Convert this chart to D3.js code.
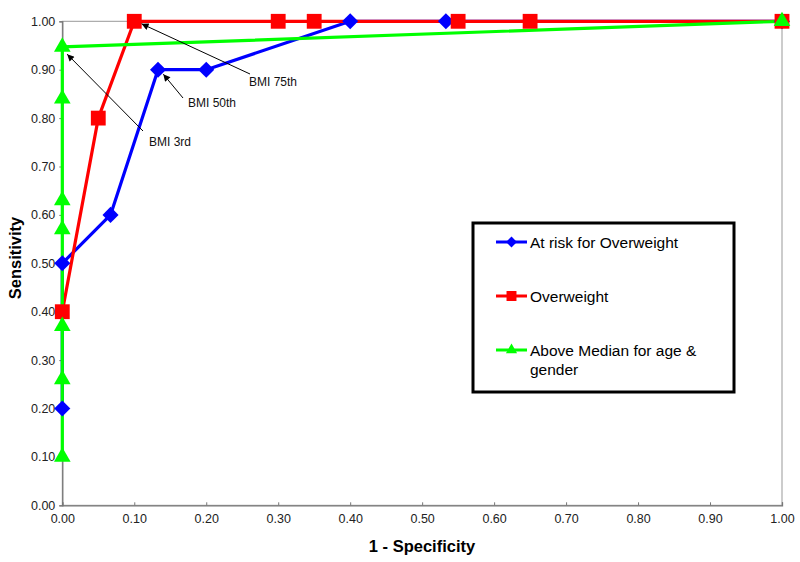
<!DOCTYPE html>
<html><head><meta charset="utf-8">
<script src="https://cdn.jsdelivr.net/npm/d3@7"></script>
<style>body{margin:0;background:#fff}svg{display:block}</style>
</head><body><svg id="c" width="800" height="562"></svg>
<script>
const atRiskX = [0, 0, 0.067, 0.133, 0.2, 0.4, 0.533, 1.0];
const atRiskY = [0.2, 0.5, 0.6, 0.9, 0.9, 1.0, 1.0, 1.0];
const overX = [0, 0.05, 0.1, 0.3, 0.35, 0.55, 0.65, 1.0];
const overY = [0.4, 0.8, 1.0, 1.0, 1.0, 1.0, 1.0, 1.0];
const medianX = [0, 0, 0, 0, 0, 0, 0, 1.0];
const medianY = [0.10, 0.26, 0.37, 0.57, 0.63, 0.84, 0.947, 1.0];
const tickValues = [0, 0.1, 0.2, 0.3, 0.4, 0.5, 0.6, 0.7, 0.8, 0.9, 1.0];
const seriesNames = ["At risk for Overweight", "Overweight", "Above Median for age & gender"];
const annotations = [
  {label: "BMI 75th", x: 0.1, y: 1.0},
  {label: "BMI 50th", x: 0.133, y: 0.9},
  {label: "BMI 3rd", x: 0, y: 0.947}
];

const svg = d3.select("#c");
const L = 62.3, R = 782, T = 21.3, B = 505.3;
const x = d3.scaleLinear().domain([0, 1]).range([L, R]);
const y = d3.scaleLinear().domain([0, 1]).range([B, T]);
const font = "Liberation Sans, Arial, sans-serif";

svg.append("rect").attr("x", L).attr("y", T).attr("width", R - L).attr("height", B - T)
  .attr("fill", "none").attr("stroke", "#999").attr("stroke-width", 1);

const yAxis = svg.append("g").attr("transform", `translate(${L},0)`)
  .call(d3.axisLeft(y).tickValues(tickValues).tickFormat(d3.format(".2f")).tickSize(3).tickPadding(4));
const xAxis = svg.append("g").attr("transform", `translate(0,${B})`)
  .call(d3.axisBottom(x).tickValues(tickValues).tickFormat(d3.format(".2f")).tickSize(-3).tickPadding(9));
[yAxis, xAxis].forEach(g => {
  g.select(".domain").attr("stroke", "#777").attr("stroke-width", 1.3);
  g.selectAll(".tick line").attr("stroke", "#777");
  g.selectAll("text").attr("font-family", font).attr("font-size", 12.5).attr("fill", "#222");
});

svg.append("text").attr("x", 422).attr("y", 552).attr("text-anchor", "middle")
  .attr("font-family", font).attr("font-weight", "bold").attr("font-size", 16.5).text("1 - Specificity");
svg.append("text").attr("transform", "translate(21,258) rotate(-90)").attr("text-anchor", "middle")
  .attr("font-family", font).attr("font-weight", "bold").attr("font-size", 16.5).text("Sensitivity");

const series = [
  {xs: atRiskX, ys: atRiskY, color: "#0000ff", sym: d3.symbolDiamond2, size: 165},
  {xs: overX, ys: overY, color: "#ff0000", sym: d3.symbolSquare, size: 220},
  {xs: medianX, ys: medianY, color: "#00ff00", sym: d3.symbolTriangle, size: 120}
];
const line = d3.line().x(d => x(d[0])).y(d => y(d[1]));

const lineG = svg.append("g"), markG = svg.append("g");
[0, 1, 2].forEach(i => {
  const s = series[i];
  const pts = s.xs.map((v, j) => [v, s.ys[j]]);
  lineG.append("path").attr("d", line(pts)).attr("fill", "none")
    .attr("stroke", s.color).attr("stroke-width", 3.2).attr("stroke-linejoin", "round");
  markG.selectAll(null).data(pts).enter().append("path")
    .attr("transform", d => `translate(${x(d[0])},${y(d[1])})`)
    .attr("d", d3.symbol().type(s.sym).size(s.size)).attr("fill", s.color);
});

const defs = svg.append("defs");
defs.append("marker").attr("id", "ah").attr("viewBox", "0 0 10 10").attr("refX", 10).attr("refY", 5)
  .attr("markerWidth", 9).attr("markerHeight", 7).attr("markerUnits", "userSpaceOnUse").attr("orient", "auto")
  .append("path").attr("d", "M0,0 L10,5 L0,10 Z").attr("fill", "#000");
const annoText = [[249, 86, 250, 74, 8, 6], [188, 107, 183, 98, 8, 6], [149, 146, 143, 131, 7, 10]];
annotations.forEach((a, i) => {
  const t = annoText[i];
  const dx = t[2] - x(a.x), dy = t[3] - y(a.y), len = Math.hypot(dx, dy);
  svg.append("line").attr("x1", t[2]).attr("y1", t[3])
    .attr("x2", x(a.x) + dx / len * t[4]).attr("y2", y(a.y) + dy / len * t[5])
    .attr("stroke", "#000").attr("stroke-width", 1).attr("marker-end", "url(#ah)");
  svg.append("text").attr("x", t[0]).attr("y", t[1]).attr("font-family", font)
    .attr("font-size", 12).attr("fill", "#111").text(a.label);
});

const lg = svg.append("g");
lg.append("rect").attr("x", 473).attr("y", 223).attr("width", 261).attr("height", 169)
  .attr("fill", "#fff").attr("stroke", "#000").attr("stroke-width", 3);
const legY = [242, 296, 350];
series.forEach((s, i) => {
  lg.append("line").attr("x1", 496).attr("x2", 527).attr("y1", legY[i]).attr("y2", legY[i])
    .attr("stroke", s.color).attr("stroke-width", 3);
  lg.append("path").attr("transform", `translate(511.5,${legY[i]})`)
    .attr("d", d3.symbol().type(s.sym).size(s.size * 0.45)).attr("fill", s.color);
});
const lt = lg.append("g").attr("font-family", font).attr("font-size", 15.5).attr("fill", "#000");
lt.append("text").attr("x", 530).attr("y", 247.5).text(seriesNames[0]);
lt.append("text").attr("x", 530).attr("y", 301.5).text(seriesNames[1]);
lt.append("text").attr("x", 530).attr("y", 355.5).text("Above Median for age &");
lt.append("text").attr("x", 530).attr("y", 374.5).text("gender");
</script></body></html>
